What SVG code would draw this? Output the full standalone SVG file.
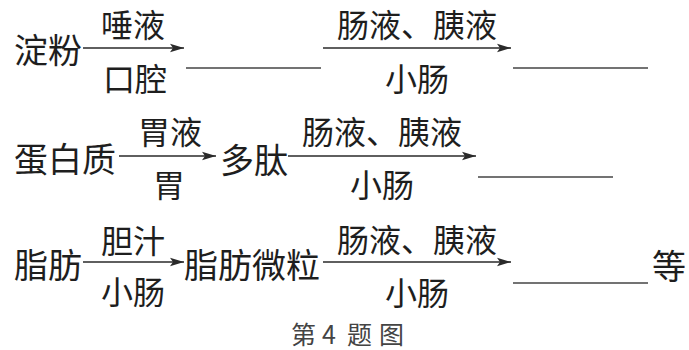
<svg xmlns="http://www.w3.org/2000/svg" width="689" height="350" viewBox="0 0 689 350">
<style>
text{font-family:"Noto Sans CJK SC","Noto Sans CJK JP",sans-serif;fill:#1e1e1e}
.n{font-size:34px;dominant-baseline:central}
.l{font-size:32px;dominant-baseline:central;text-anchor:middle}
.c{font-size:25px;dominant-baseline:central;fill:#444}
.ln{stroke:#2a2a2a;stroke-width:1.6;fill:none}
.bl{stroke:#444;stroke-width:1.4;fill:none}
</style>
<defs>
<marker id="ah" markerUnits="userSpaceOnUse" markerWidth="16" markerHeight="10" refX="14" refY="5" orient="auto">
<path d="M0,0.8 L14,5 L0,9.2 L3,5 Z" fill="#2a2a2a"/>
</marker>
</defs>
<rect width="689" height="350" fill="#fff"/>
<g id="connectors">
<line class="ln" x1="83" y1="48" x2="184" y2="48" marker-end="url(#ah)"/>
<line class="ln" x1="323" y1="48" x2="511" y2="48" marker-end="url(#ah)"/>
<line class="ln" x1="119" y1="156" x2="216" y2="156" marker-end="url(#ah)"/>
<line class="ln" x1="288" y1="156" x2="476" y2="156" marker-end="url(#ah)"/>
<line class="ln" x1="83" y1="262" x2="184" y2="262" marker-end="url(#ah)"/>
<line class="ln" x1="323" y1="262" x2="511" y2="262" marker-end="url(#ah)"/>
</g>
<g id="blanks">
<line class="bl" x1="186" y1="68" x2="321" y2="68"/>
<line class="bl" x1="513" y1="68" x2="648" y2="68"/>
<line class="bl" x1="478" y1="177" x2="613" y2="177"/>
<line class="bl" x1="513" y1="283" x2="648" y2="283"/>
</g>
<g id="row1">
<text id="dianfen" class="n" x="14" y="48">淀粉</text>
<text class="l" x="133" y="23">唾液</text>
<text class="l" x="135" y="77">口腔</text>
<text class="l" x="417" y="23">肠液、胰液</text>
<text class="l" x="417" y="77">小肠</text>
</g>
<g id="row2">
<text id="danbaizhi" class="n" x="14" y="157">蛋白质</text>
<text class="l" x="170" y="130">胃液</text>
<text class="l" x="169" y="183">胃</text>
<text id="duotai" class="n" x="220" y="158">多肽</text>
<text class="l" x="382" y="130">肠液、胰液</text>
<text class="l" x="382" y="183">小肠</text>
</g>
<g id="row3">
<text id="zhifang" class="n" x="14" y="263">脂肪</text>
<text class="l" x="133" y="239">胆汁</text>
<text class="l" x="133" y="290">小肠</text>
<text id="zhifangweili" class="n" x="184" y="263">脂肪微粒</text>
<text class="l" x="417" y="238">肠液、胰液</text>
<text class="l" x="417" y="291">小肠</text>
<text id="deng" class="n" x="652" y="264">等</text>
</g>
<text class="c" y="333"><tspan x="291">第</tspan><tspan x="322">4</tspan><tspan x="347">题</tspan><tspan x="379">图</tspan></text>
</svg>
